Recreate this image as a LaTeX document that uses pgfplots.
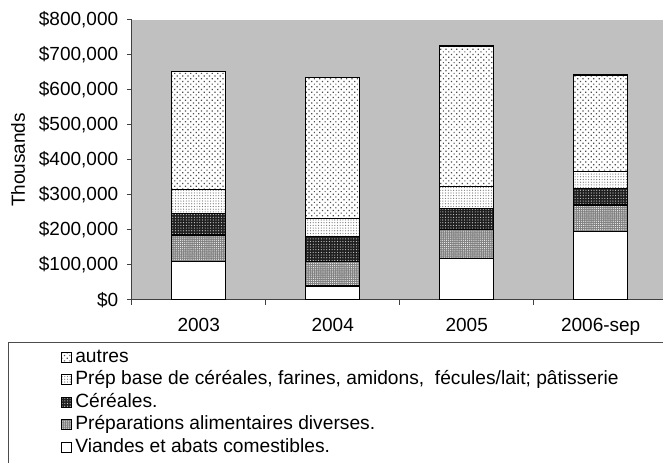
\documentclass[border=0pt]{standalone}
\usepackage{fontspec}
\setmainfont{Liberation Sans}
\usepackage{pgfplots}
\pgfplotsset{compat=1.18}
\usetikzlibrary{patterns.meta}
\definecolor{plotgray}{RGB}{192,192,192}
\pgfplotsset{sqlegend/.style={legend image code/.code={\draw[##1,line width=1.2bp] (0bp,-5bp) rectangle (10bp,5bp);}}}
\begin{document}
\fontsize{19bp}{23bp}\selectfont
\begin{tikzpicture}[x=1bp,y=1bp]
\useasboundingbox (0,0) rectangle (663,463);
\draw[black!70, line width=1bp] (8,-20) -- (8,120.5) -- (700,120.5);
\begin{axis}[
  at={(131.7bp,163bp)}, anchor=south west,
  scale only axis, width=536bp, height=280bp,
  xmin=-0.5, xmax=3.5, ymin=0, ymax=800000,
  ybar stacked, bar width=54bp,
  axis background/.style={fill=plotgray},
  axis lines=left,
  axis line style={-, black!75, line width=1bp},
  tick align=outside, major tick length=5bp,
  tick style={black!75, line width=1bp},
  xtick={-0.5,0.5,1.5,2.5,3.5},
  xticklabels={2003,2004,2005,2006-sep},
  x tick label as interval,
  xticklabel style={yshift=-7bp},
  ytick={0,100000,...,800000},
  scaled y ticks=false,
  /pgf/number format/assume math mode=true,
  yticklabel={\$\pgfmathprintnumber[fixed,precision=0,1000 sep={,}]{\tick}},
  yticklabel style={xshift=-2bp},
  ticklabel style={font=\fontsize{19bp}{23bp}\selectfont},
  ylabel={Thousands},
  ylabel style={at={(axis description cs:-0.212,0.5)}, anchor=center, font=\fontsize{19bp}{23bp}\selectfont},
  reverse legend,
  legend style={at={(axis description cs:-0.133,-0.168)}, anchor=north west,
    draw=none, fill=none, inner sep=0pt, row sep=2.5bp,
    font=\fontsize{19.2bp}{23bp}\selectfont,
    /tikz/every odd column/.append style={column sep=2.5bp},
    nodes={inner sep=1bp, text height=14bp, text depth=4bp}},
  legend cell align=left,
]
\addplot+[draw=black, line width=1.3bp, fill=white, sqlegend]
  coordinates {(0,109000) (1,40000) (2,119000) (3,195000)};
\addlegendentry{Viandes et abats comestibles.}
\addplot+[draw=black, line width=1.3bp, fill=black!50,
  postaction={pattern={Dots[distance=1.9bp, radius=0.5bp]}, pattern color=white}, sqlegend]
  coordinates {(0,77000) (1,69000) (2,83000) (3,76000)};
\addlegendentry{Préparations alimentaires diverses.}
\addplot+[draw=black, line width=1.3bp, fill=black!88,
  postaction={pattern={Dots[distance=2.7bp, radius=0.6bp]}, pattern color=white!80!black}, sqlegend]
  coordinates {(0,62000) (1,72000) (2,60000) (3,48000)};
\addlegendentry{Céréales.}
\addplot+[draw=black, line width=1.3bp, fill=white,
  postaction={pattern={Dots[distance=2.7bp, radius=0.6bp]}, pattern color=black!55}, sqlegend]
  coordinates {(0,68000) (1,52000) (2,63000) (3,48000)};
\addlegendentry{Prép base de céréales, farines, amidons,~ fécules/lait; pâtisserie}
\addplot+[draw=black, line width=1.3bp, fill=white,
  postaction={pattern={Dots[distance=3.8bp, angle=45, radius=0.85bp]}, pattern color=black!70}, sqlegend]
  coordinates {(0,336000) (1,402000) (2,401000) (3,276000)};
\addlegendentry{autres}
\end{axis}
\end{tikzpicture}
\end{document}
